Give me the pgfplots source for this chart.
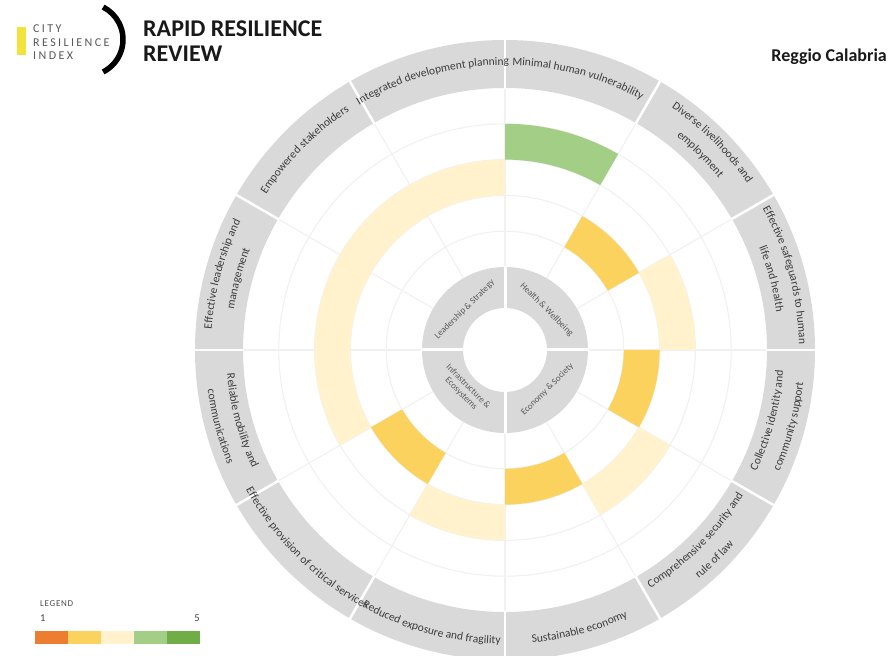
\documentclass[border=0pt]{standalone}
\usepackage{pgfplots}
\pgfplotsset{compat=1.18}
\usepackage{pgfplotstable}
\usepackage{fontspec}
\setmainfont{Carlito}
\usetikzlibrary{decorations.text,calc}

\definecolor{sOne}{HTML}{ED7D31}
\definecolor{sTwo}{HTML}{FCD25F}
\definecolor{sThree}{HTML}{FFF2CC}
\definecolor{sFour}{HTML}{A2CE86}
\definecolor{sFive}{HTML}{70AD47}
\definecolor{ringgray}{HTML}{D9D9D9}
\definecolor{gridgray}{HTML}{F1F1F1}
\definecolor{labeltext}{HTML}{3C3C3C}
\definecolor{cattext}{HTML}{5A5A5A}
\definecolor{logoyellow}{HTML}{F2E33C}

% Score (1-5) of each of the 12 goals; angle = middle of its sector, degrees clockwise from north
\pgfplotstableread{
angle score
15  4
45  2
75  3
105 2
135 3
165 2
195 3
225 2
255 3
285 3
315 3
345 3
}\scores

\def\rzero{83}
\def\rstep{35.8}

% annular sector of one score band, drawn at the band's mid point
\pgfdeclareplotmark{band}{%
  \pgfmathsetmacro{\bandmid}{\rzero+\rstep*(\sc-0.5)}%
  \pgfmathsetmacro{\bandin}{\rzero+\rstep*(\sc-1)}%
  \pgfmathsetmacro{\bandout}{\rzero+\rstep*\sc}%
  \pgfmathsetmacro{\bandrot}{90-\ang}%
  \pgftransformrotate{\bandrot}%
  \pgfpathmoveto{\pgfpointadd{\pgfpoint{-\bandmid pt}{0pt}}{\pgfpointpolar{-15}{\bandout pt}}}%
  \pgfpatharc{-15}{15}{\bandout pt}%
  \pgfpathlineto{\pgfpointadd{\pgfpoint{-\bandmid pt}{0pt}}{\pgfpointpolar{15}{\bandin pt}}}%
  \pgfpatharc{15}{-15}{\bandin pt}%
  \pgfpathclose
  \pgfusepathqfill
}

\newcommand\upperlabel[3]{%
  \path[decorate, decoration={text along path, text align=center, text color=labeltext,
     text={|\fontsize{11.5}{13}\selectfont|#3}}]
     (505,306) ++({90-#1+35}:#2) arc[start angle={90-#1+35}, end angle={90-#1-35}, radius=#2];}
\newcommand\lowerlabel[3]{%
  \path[decorate, decoration={text along path, text align=center, text color=labeltext,
     text={|\fontsize{11.5}{13}\selectfont|#3}}]
     (505,306) ++({90-#1-35}:#2) arc[start angle={90-#1-35}, end angle={90-#1+35}, radius=#2];}

\begin{document}
\begin{tikzpicture}[x=1pt, y=1pt]
\useasboundingbox (0,0) rectangle (889,656);
\clip (0,0) rectangle (889,656);
\fill[white] (0,0) rectangle (889,656);
\coordinate (C) at (505,306);
% outer gray ring
\fill[ringgray, even odd rule] (C) circle[radius=310] (C) circle[radius=262];
% grid
\foreach \rr in {118.8,154.6,190.4,226.2} \draw[gridgray, line width=1.1pt] (C) circle[radius=\rr];
\foreach \myang in {0,30,...,330} \draw[gridgray, line width=1.1pt] (C) ++(\myang:83) -- ++(\myang:179);
% inner category ring
\fill[ringgray, even odd rule] (C) circle[radius=83] (C) circle[radius=42];
\foreach \myang in {0,90,180,270} \draw[white, line width=3pt] (C) ++(\myang:41) -- ++(\myang:43);

\begin{axis}[at={(0,0)}, anchor=south west, width=889pt, height=656pt, scale only axis,
  xmin=-505, xmax=384, ymin=-306, ymax=350, enlargelimits=false, hide axis, clip=false]
\addplot[scatter, only marks, mark=band,
  point meta=explicit symbolic,
  scatter/classes={1={fill=sOne,draw=none},2={fill=sTwo,draw=none},3={fill=sThree,draw=none},4={fill=sFour,draw=none},5={fill=sFive,draw=none}},
  visualization depends on={\thisrow{angle}\as\ang},
  visualization depends on={\thisrow{score}\as\sc}]
  table[x expr={(\rzero+\rstep*(\thisrow{score}-0.5))*sin(\thisrow{angle})},
        y expr={(\rzero+\rstep*(\thisrow{score}-0.5))*cos(\thisrow{angle})},
        meta=score] {\scores};
\end{axis}

% white dividers in the outer ring
\foreach \myang in {0,30,...,330} \draw[white, line width=2.5pt] (C) ++(\myang:261) -- ++(\myang:50);

% outer labels
\upperlabel{15}{285}{Minimal human vulnerability}
\upperlabel{45}{294}{Diverse livelihoods and}
\upperlabel{45}{274}{employment}
\upperlabel{75}{294}{Effective safeguards to human}
\upperlabel{75}{274}{life and health}
\lowerlabel{105}{279}{Collective identity and}
\lowerlabel{105}{300}{community support}
\lowerlabel{135}{279}{Comprehensive security and}
\lowerlabel{135}{300}{rule of law}
\lowerlabel{165}{294}{Sustainable economy}
\lowerlabel{195}{294}{Reduced exposure and fragility}
\lowerlabel{225}{294}{Effective provision of critical services}
\lowerlabel{255}{279}{Reliable mobility and}
\lowerlabel{255}{300}{communications}
\upperlabel{285}{294}{Effective leadership and}
\upperlabel{285}{274}{management}
\upperlabel{315}{285}{Empowered stakeholders}
\upperlabel{345}{285}{Integrated development planning}

% inner category labels
\begin{scope}[every node/.style={font=\fontsize{9}{10}\selectfont, text=cattext, inner sep=0pt, align=center}]
\node[rotate=-45] at ($(C)+(44:58)$) {Health \& Wellbeing};
\node[rotate=45] at ($(C)+(-43:58)$) {Economy \& Society};
\node[rotate=-45] at ($(C)+(-135:57)$) {Infrastructure \&\\Ecosystems};
\node[rotate=45] at ($(C)+(135:57)$) {Leadership \& Strategy};
\end{scope}

% header
\fill[logoyellow] (17,601) rectangle (26,629);
\begin{scope}[every node/.style={inner sep=0pt, anchor=base west, text=black!65, font=\fontsize{12}{12}\selectfont\addfontfeatures{LetterSpace=20}}]
\node at (33,623) {CITY};
\node at (33,609.5) {RESILIENCE};
\node at (33,596.5) {INDEX};
\end{scope}
\draw[black, line width=5.5pt] (86.6,616.5) ++(-63:36.4) arc[start angle=-63, end angle=63, radius=36.4];
\node[anchor=base west, inner sep=0pt, font=\fontsize{24}{26}\selectfont\bfseries, text=black!90] at (143,619) {RAPID RESILIENCE};
\node[anchor=base west, inner sep=0pt, font=\fontsize{24}{26}\selectfont\bfseries, text=black!90] at (143,594) {REVIEW};
\node[anchor=base east, inner sep=0pt, font=\fontsize{18}{20}\selectfont\bfseries, text=black!90] at (887,594) {Reggio Calabria};

% legend
\node[anchor=base west, inner sep=0pt, font=\fontsize{9}{10}\selectfont\addfontfeatures{LetterSpace=8}, text=black!70] at (40,49) {LEGEND};
\node[anchor=base west, inner sep=0pt, font=\fontsize{10.5}{11}\selectfont, text=black!75] at (40,34) {1};
\node[anchor=base east, inner sep=0pt, font=\fontsize{10.5}{11}\selectfont, text=black!75] at (200,34) {5};
\fill[sOne]   (35,12) rectangle (68,25);
\fill[sTwo]   (68,12) rectangle (101,25);
\fill[sThree] (101,12) rectangle (134,25);
\fill[sFour]  (134,12) rectangle (167,25);
\fill[sFive]  (167,12) rectangle (200,25);
\end{tikzpicture}
\end{document}
